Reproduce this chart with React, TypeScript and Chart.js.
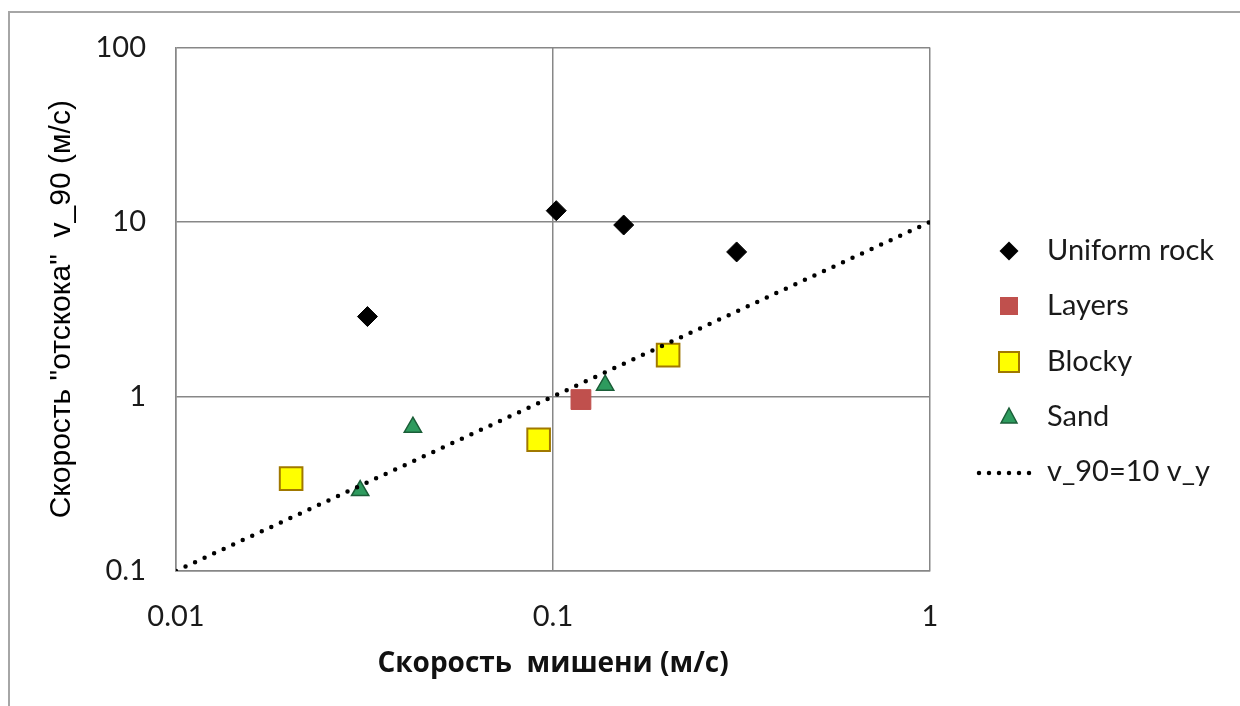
import React, { useEffect, useRef } from 'react';
import { Chart, registerables } from 'chart.js';

Chart.register(...registerables);

// ---- data ----
const xTickValues = [0.01, 0.1, 1];
const yTickValues = [0.1, 1, 10, 100];
const xTickLabels = ['0.01', '0.1', '1'];
const yTickLabels = ['0.1', '1', '10', '100'];

const seriesNames = ['Uniform rock', 'Layers', 'Blocky', 'Sand', 'v_90=10 v_y'];

const uniformX = [0.0322, 0.102, 0.154, 0.307];
const uniformY = [2.87, 11.6, 9.6, 6.73];
const layersX = [0.1186];
const layersY = [0.96];
const blockyX = [0.0202, 0.0916, 0.202];
const blockyY = [0.338, 0.565, 1.726];
const sandX = [0.0308, 0.0425, 0.1375];
const sandY = [0.289, 0.667, 1.16];
const lineX = [0.01, 1];
const lineY = [0.1, 10];

const xTitle = 'Скорость  мишени (м/с)';
const yTitle = 'Скорость "отскока"  v_90 (м/с)';

const FONT = 'Lato, "Open Sans", sans-serif';

const pts = (xs: number[], ys: number[]) => xs.map((x, i) => ({ x, y: ys[i] }));

const styles = [
  { pointStyle: 'rectRot', radius: 10, bg: '#000000', border: '#000000', bw: 1 },
  { pointStyle: 'rect', radius: 14, bg: '#C0504D', border: '#C0504D', bw: 1 },
  { pointStyle: 'rect', radius: 16, bg: '#FFFF00', border: '#A07800', bw: 2 },
  { pointStyle: 'triangle', radius: 10, bg: '#2E9B5E', border: '#1B5E38', bw: 1.5 },
];

const legendPlugin = {
  id: 'customLegend',
  afterDraw(chart: any) {
    const ctx = chart.ctx as CanvasRenderingContext2D;
    const rows = [251, 306, 362, 417, 472];
    const mx = 1009;
    const tx = 1047;
    ctx.save();
    ctx.font = `29px ${FONT}`;
    ctx.textBaseline = 'middle';
    ctx.textAlign = 'left';
    rows.forEach((y, i) => {
      ctx.fillStyle = '#1a1a1a';
      ctx.fillText(seriesNames[i], tx, y);
      ctx.save();
      if (i === 0) {
        ctx.fillStyle = '#000';
        ctx.beginPath();
        const r = 9.5;
        ctx.moveTo(mx, y - r);
        ctx.lineTo(mx + r, y);
        ctx.lineTo(mx, y + r);
        ctx.lineTo(mx - r, y);
        ctx.closePath();
        ctx.fill();
      } else if (i === 1) {
        ctx.fillStyle = '#C0504D';
        ctx.fillRect(mx - 9, y - 9, 18, 18);
      } else if (i === 2) {
        ctx.fillStyle = '#FFFF00';
        ctx.strokeStyle = '#A07800';
        ctx.lineWidth = 2;
        ctx.fillRect(mx - 10, y - 10, 20, 20);
        ctx.strokeRect(mx - 10, y - 10, 20, 20);
      } else if (i === 3) {
        ctx.fillStyle = '#2E9B5E';
        ctx.strokeStyle = '#1B5E38';
        ctx.lineWidth = 1.5;
        ctx.beginPath();
        ctx.moveTo(mx, y - 9);
        ctx.lineTo(mx + 8, y + 6);
        ctx.lineTo(mx - 8, y + 6);
        ctx.closePath();
        ctx.fill();
        ctx.stroke();
      } else {
        ctx.strokeStyle = '#000';
        ctx.lineWidth = 4.5;
        ctx.lineCap = 'round';
        ctx.setLineDash([0, 10]);
        ctx.beginPath();
        ctx.moveTo(979, y + 1);
        ctx.lineTo(1036, y + 1);
        ctx.stroke();
      }
      ctx.restore();
    });
    ctx.restore();
  },
};

export default function App() {
  const ref = useRef<HTMLCanvasElement | null>(null);

  useEffect(() => {
    if (!ref.current) return;
    const datasets: any[] = [
      [uniformX, uniformY],
      [layersX, layersY],
      [blockyX, blockyY],
      [sandX, sandY],
    ].map(([xs, ys], i) => ({
      label: seriesNames[i],
      data: pts(xs as number[], ys as number[]),
      pointStyle: styles[i].pointStyle,
      pointRadius: styles[i].radius,
      pointBackgroundColor: styles[i].bg,
      pointBorderColor: styles[i].border,
      pointBorderWidth: styles[i].bw,
      showLine: false,
    }));
    datasets.push({
      label: seriesNames[4],
      data: pts(lineX, lineY),
      showLine: true,
      pointRadius: 0,
      borderColor: '#000000',
      borderWidth: 4.5,
      borderDash: [0, 10.5],
      borderCapStyle: 'round',
      order: -1,
    });

    const chart = new Chart(ref.current, {
      type: 'scatter',
      data: { datasets },
      plugins: [legendPlugin],
      options: {
        animation: false,
        responsive: false,
        maintainAspectRatio: false,
        layout: { padding: { top: 43, right: 310, left: 0, bottom: 0 } },
        plugins: { legend: { display: false }, tooltip: { enabled: false } },
        scales: {
          x: {
            type: 'logarithmic',
            min: 0.01,
            max: 1,
            afterBuildTicks: (s: any) => {
              s.ticks = xTickValues.map((v) => ({ value: v }));
            },
            afterFit: (s: any) => {
              s.height = 135;
            },
            ticks: {
              autoSkip: false,
              maxRotation: 0,
              padding: 28,
              color: '#1a1a1a',
              font: { family: FONT, size: 29 },
              callback: (v: any) => {
                const i = xTickValues.indexOf(Number(v));
                return i >= 0 ? xTickLabels[i] : '';
              },
            },
            grid: { color: '#878787', lineWidth: 1.5, drawTicks: false },
            border: { display: true, color: '#878787', width: 1.5 },
            title: {
              display: true,
              text: xTitle,
              color: '#111',
              font: { family: '"Open Sans", sans-serif', size: 28, weight: 'bold' },
              padding: { top: 0, bottom: 25 },
            },
          },
          y: {
            type: 'logarithmic',
            min: 0.1,
            max: 100,
            afterBuildTicks: (s: any) => {
              s.ticks = yTickValues.map((v) => ({ value: v }));
            },
            afterFit: (s: any) => {
              s.width = 176;
            },
            ticks: {
              autoSkip: false,
              padding: 30,
              color: '#1a1a1a',
              font: { family: FONT, size: 29 },
              callback: (v: any) => {
                const i = yTickValues.indexOf(Number(v));
                return i >= 0 ? yTickLabels[i] : '';
              },
            },
            grid: { color: '#878787', lineWidth: 1.5, drawTicks: false },
            border: { display: true, color: '#878787', width: 1.5 },
            title: {
              display: true,
              text: yTitle,
              color: '#000',
              font: { family: '"Liberation Sans", Arial, sans-serif', size: 30, weight: 'normal' },
              padding: { top: 44, bottom: 0 },
            },
          },
        },
      },
    });
    return () => chart.destroy();
  }, []);

  return (
    <div style={{ position: 'fixed', left: 0, top: 0, width: 1240, height: 706, background: '#fff', overflow: 'hidden' }}>
      <div
        style={{
          position: 'absolute',
          left: 8,
          top: 11,
          width: 1300,
          height: 800,
          borderTop: '2px solid #a6a6a6',
          borderLeft: '2px solid #a6a6a6',
        }}
      />
      <canvas ref={ref} width={1240} height={706} style={{ position: 'absolute', left: 0, top: 0 }} />
    </div>
  );
}
